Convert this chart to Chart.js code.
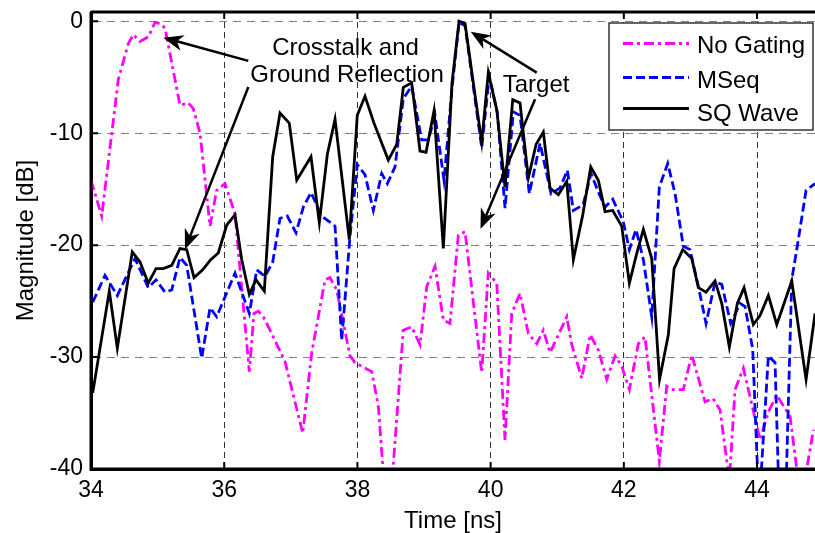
<!DOCTYPE html>
<html>
<head>
<meta charset="utf-8">
<script src="https://cdn.jsdelivr.net/npm/chart.js@4.4.1/dist/chart.umd.min.js"></script>
<style>
  html, body { margin: 0; padding: 0; background: #fff; }
  #wrap { width: 815px; height: 533px; }
</style>
</head>
<body>
<div id="wrap"><canvas id="gateChart" width="815" height="533"></canvas></div>
<script>
// Axis ticks
const timeTicks = [34, 36, 38, 40, 42, 44];
const magTicks = [0, -10, -20, -30, -40];

// No Gating (magenta, dash-dot)
const noGateTime = [34.00, 34.161, 34.41, 34.56, 34.635, 34.736, 34.86, 34.961, 35.036, 35.111,
  35.336, 35.461, 35.536, 35.637, 35.787, 35.887, 36.012, 36.162, 36.377, 36.447,
  36.512, 36.587, 36.688, 36.913, 37.179, 37.314, 37.514, 37.589, 37.689, 37.889,
  37.964, 38.215, 38.314, 38.459, 38.689, 38.815, 38.94, 39.041, 39.165, 39.29,
  39.39, 39.515, 39.616, 39.866, 39.965, 40.092, 40.216, 40.317, 40.441, 40.566,
  40.692, 40.791, 40.892, 41.143, 41.218, 41.368, 41.495, 41.619, 41.743, 41.868,
  41.968, 42.083, 42.218, 42.318, 42.533, 42.644, 42.719, 42.893, 43.02, 43.219,
  43.338, 43.444, 43.584, 43.67, 43.795, 44.045, 44.17, 44.296, 44.496, 44.66,
  44.846];
const noGateMag = [-14.2, -17.4, -5.2, -2.0, -1.2, -1.8, -1.4, -0.1, -0.2, -0.6,
  -7.5, -7.3, -7.8, -10.0, -18.3, -15.1, -14.5, -17.2, -31.3, -26.1,
  -25.9, -26.4, -27.6, -30.4, -36.8, -29.6, -23.1, -22.9, -24.0, -29.9,
  -30.5, -31.3, -34.4, -46.0, -27.6, -27.3, -28.9, -23.7, -21.9, -26.7,
  -27.0, -19.1, -18.8, -31.4, -22.5, -23.4, -37.4, -26.1, -24.3, -27.9,
  -28.8, -27.6, -29.6, -26.4, -28.9, -31.9, -28.0, -29.4, -32.0, -29.9,
  -30.8, -32.9, -28.8, -28.2, -39.3, -32.6, -32.9, -32.9, -29.8, -34.0,
  -33.7, -34.7, -41.0, -32.9, -31.0, -37.4, -34.9, -33.4, -35.3, -43.0,
  -36.5];

// MSeq (blue, dashed)
const mseqTime = [34.026, 34.21, 34.395, 34.661, 34.86, 34.976, 35.111, 35.212, 35.336, 35.437,
  35.662, 35.787, 35.887, 36.162, 36.377, 36.488, 36.613, 36.728, 36.838, 36.947,
  37.078, 37.188, 37.303, 37.464, 37.664, 37.764, 37.889, 37.998, 38.114, 38.239,
  38.365, 38.449, 38.565, 38.689, 38.815, 38.965, 39.065, 39.165, 39.30, 39.42,
  39.526, 39.616, 39.74, 39.866, 39.98, 40.101, 40.216, 40.341, 40.441, 40.581,
  40.742, 40.907, 41.042, 41.152, 41.242, 41.388, 41.508, 41.613, 41.718, 41.833,
  41.992, 42.083, 42.183, 42.293, 42.419, 42.533, 42.659, 42.769, 42.893, 42.994,
  43.119, 43.234, 43.369, 43.47, 43.605, 43.745, 43.82, 43.935, 44.03, 44.17,
  44.27, 44.383, 44.521, 44.62, 44.736, 44.871];
const mseqMag = [-25.1, -22.7, -24.5, -21.2, -23.8, -23.1, -24.2, -24.0, -21.1, -21.8,
  -30.1, -25.6, -26.4, -22.5, -26.1, -22.2, -22.8, -21.5, -17.6, -17.4,
  -18.9, -16.6, -15.3, -17.4, -18.3, -28.5, -19.2, -12.8, -13.7, -16.9,
  -13.6, -14.5, -13.0, -6.9, -5.8, -10.6, -10.6, -8.4, -14.2, -6.0,
  -0.1, -0.4, -5.8, -11.3, -4.9, -8.2, -16.7, -8.1, -8.4, -15.4,
  -10.9, -15.4, -14.9, -13.3, -16.9, -16.4, -13.6, -15.2, -16.6, -15.9,
  -17.9, -20.4, -18.6, -21.3, -26.4, -14.8, -12.7, -15.4, -20.1, -20.4,
  -23.7, -27.0, -23.3, -23.5, -27.0, -25.2, -25.5, -29.3, -43.5, -29.9,
  -30.5, -53.0, -23.1, -19.5, -15.1, -14.5];

// SQ Wave (black, solid)
const sqTime = [34.026, 34.275, 34.395, 34.62, 34.736, 34.86, 34.976, 35.086, 35.212, 35.336,
  35.437, 35.547, 35.677, 35.797, 35.911, 36.038, 36.162, 36.263, 36.377, 36.477,
  36.602, 36.728, 36.838, 36.977, 37.089, 37.303, 37.428, 37.548, 37.664, 37.878,
  37.998, 38.114, 38.249, 38.464, 38.59, 38.689, 38.815, 38.94, 39.03, 39.15,
  39.29, 39.42, 39.526, 39.616, 39.74, 39.866, 39.965, 40.092, 40.216, 40.332,
  40.441, 40.566, 40.682, 40.791, 40.892, 41.017, 41.143, 41.242, 41.383, 41.503,
  41.617, 41.718, 41.833, 41.968, 42.083, 42.191, 42.293, 42.419, 42.536, 42.668,
  42.754, 42.884, 43.02, 43.119, 43.234, 43.369, 43.47, 43.584, 43.704, 43.805,
  43.944, 44.045, 44.17, 44.296, 44.521, 44.736, 44.871];
const sqMag = [-33.2, -24.1, -29.2, -20.6, -21.5, -23.4, -22.1, -22.1, -21.8, -20.3,
  -20.4, -22.9, -22.2, -21.3, -20.7, -18.2, -17.3, -21.3, -24.4, -23.1,
  -24.1, -12.1, -8.2, -9.1, -14.2, -12.1, -18.0, -11.9, -8.75, -19.5,
  -8.4, -6.7, -9.1, -12.4, -11.0, -5.9, -5.5, -11.6, -11.7, -8.0,
  -20.3, -5.5, 0.0, -0.2, -5.5, -10.8, -4.6, -7.9, -14.8, -7.0,
  -7.3, -14.0, -11.0, -9.9, -14.9, -15.5, -14.3, -21.3, -17.3, -13.0,
  -14.2, -17.0, -16.9, -18.3, -23.4, -20.8, -18.6, -21.2, -32.0, -28.0,
  -22.1, -20.4, -21.2, -23.8, -24.2, -23.2, -25.2, -29.1, -25.2, -23.8,
  -27.1, -26.3, -24.5, -27.1, -23.2, -32.0, -26.1];

// Annotations (in data units)
const noteText = ["Crosstalk and", "Ground Reflection", "Target"];
const noteTime = [37.821, 37.844, 40.682];
const noteMag = [-3.01, -5.39, -6.29];
const arrowTailTime = [36.362, 36.362, 40.692, 40.667];
const arrowTailMag = [-3.54, -5.87, -4.59, -6.96];
const arrowTipTime = [35.086, 35.411, 39.701, 39.848];
const arrowTipMag = [-1.46, -20.38, -0.93, -18.54];

const FONT = '"Liberation Sans", Arial, Helvetica, sans-serif';

function toPoints(xs, ys) {
  return xs.map((t, i) => ({ x: t, y: ys[i] }));
}

// Axes drawn on top of the data: box lines and inward ticks
const axesFrame = {
  id: "axesFrame",
  afterDatasetsDraw(chart) {
    const { ctx, chartArea: a, scales } = chart;
    ctx.save();
    ctx.strokeStyle = "#000";
    ctx.lineWidth = 3;
    ctx.beginPath();
    ctx.moveTo(a.left, a.top);
    ctx.lineTo(a.right, a.top);
    ctx.moveTo(a.left, a.top);
    ctx.lineTo(a.left, a.bottom);
    ctx.lineTo(a.right, a.bottom);
    ctx.stroke();

    ctx.lineWidth = 2;
    ctx.beginPath();
    timeTicks.forEach((t) => {
      const px = scales.x.getPixelForValue(t);
      ctx.moveTo(px, a.bottom);
      ctx.lineTo(px, a.bottom - 7);
      ctx.moveTo(px, a.top);
      ctx.lineTo(px, a.top + 7);
    });
    magTicks.forEach((v) => {
      const py = scales.y.getPixelForValue(v);
      ctx.moveTo(a.left, py);
      ctx.lineTo(a.left + 7, py);
    });
    ctx.stroke();
    ctx.restore();
  },
};

// Boxed legend in the upper right corner
const legendBox = {
  id: "legendBox",
  afterDraw(chart) {
    const ctx = chart.ctx;
    const lineY = [43.5, 77.5, 108.5];
    const textY = [53, 88, 120.5];
    ctx.save();
    ctx.fillStyle = "#fff";
    ctx.fillRect(609, 23, 204, 107);
    ctx.strokeStyle = "#000";
    ctx.lineWidth = 1.2;
    ctx.strokeRect(609, 23, 204, 107);

    chart.data.datasets.forEach((ds, i) => {
      ctx.strokeStyle = ds.borderColor;
      ctx.lineWidth = ds.borderWidth;
      ctx.setLineDash(ds.borderDash || []);
      ctx.beginPath();
      ctx.moveTo(623, lineY[i]);
      ctx.lineTo(689, lineY[i]);
      ctx.stroke();
      ctx.setLineDash([]);
      ctx.fillStyle = "#000";
      ctx.font = "24px " + FONT;
      ctx.textAlign = "left";
      ctx.textBaseline = "alphabetic";
      ctx.fillText(ds.label, 697, textY[i]);
    });
    ctx.restore();
  },
};

// Text labels and arrows
function drawArrow(ctx, x0, y0, x1, y1) {
  const ang = Math.atan2(y1 - y0, x1 - x0);
  const len = 20, half = 8, notch = 14;
  const bx = x1 - Math.cos(ang) * notch;
  const by = y1 - Math.sin(ang) * notch;
  ctx.beginPath();
  ctx.moveTo(x0, y0);
  ctx.lineTo(bx, by);
  ctx.stroke();
  const cx = x1 - Math.cos(ang) * len;
  const cy = y1 - Math.sin(ang) * len;
  ctx.beginPath();
  ctx.moveTo(x1, y1);
  ctx.lineTo(cx - Math.sin(ang) * half, cy + Math.cos(ang) * half);
  ctx.lineTo(bx, by);
  ctx.lineTo(cx + Math.sin(ang) * half, cy - Math.cos(ang) * half);
  ctx.closePath();
  ctx.fill();
}

const notes = {
  id: "notes",
  afterDraw(chart) {
    const { ctx, scales } = chart;
    ctx.save();
    ctx.fillStyle = "#000";
    ctx.strokeStyle = "#000";
    ctx.lineWidth = 2.5;
    ctx.font = "24px " + FONT;
    ctx.textAlign = "center";
    ctx.textBaseline = "alphabetic";
    noteText.forEach((s, i) => {
      ctx.fillText(s, scales.x.getPixelForValue(noteTime[i]), scales.y.getPixelForValue(noteMag[i]));
    });
    arrowTailTime.forEach((t, i) => {
      drawArrow(
        ctx,
        scales.x.getPixelForValue(t),
        scales.y.getPixelForValue(arrowTailMag[i]),
        scales.x.getPixelForValue(arrowTipTime[i]),
        scales.y.getPixelForValue(arrowTipMag[i])
      );
    });
    ctx.restore();
  },
};

const ctx = document.getElementById("gateChart").getContext("2d");

new Chart(ctx, {
  type: "line",
  data: {
    datasets: [
      {
        label: "No Gating",
        data: toPoints(noGateTime, noGateMag),
        borderColor: "#ff00ff",
        borderWidth: 2.8,
        borderDash: [10, 4, 3, 4],
        order: 2,
      },
      {
        label: "MSeq",
        data: toPoints(mseqTime, mseqMag),
        borderColor: "#0000ff",
        borderWidth: 2.8,
        borderDash: [9, 4],
        order: 1,
      },
      {
        label: "SQ Wave",
        data: toPoints(sqTime, sqMag),
        borderColor: "#000000",
        borderWidth: 2.8,
        order: 0,
      },
    ],
  },
  options: {
    responsive: false,
    animation: false,
    devicePixelRatio: 1,
    layout: { padding: { top: 12, left: 0, right: 0, bottom: 0 } },
    elements: {
      point: { radius: 0 },
      line: { tension: 0, fill: false },
    },
    plugins: {
      legend: { display: false },
      tooltip: { enabled: false },
    },
    scales: {
      x: {
        type: "linear",
        min: 34,
        max: 44.87,
        afterBuildTicks(scale) {
          scale.ticks = timeTicks.map((v) => ({ value: v }));
        },
        afterFit(scale) {
          scale.height = 64;
          scale.paddingLeft = 0;
          scale.paddingRight = 0;
        },
        ticks: {
          autoSkip: false,
          maxRotation: 0,
          padding: 8,
          color: "#000",
          font: { family: FONT, size: 23 },
        },
        grid: { color: "#333", lineWidth: 1, drawTicks: false },
        border: { color: "#000", width: 3, dash: [6, 4] },
        title: {
          display: true,
          text: "Time [ns]",
          color: "#000",
          font: { family: FONT, size: 24 },
          padding: { top: 0, bottom: -3 },
        },
      },
      y: {
        type: "linear",
        min: -40,
        max: 0.83,
        afterBuildTicks(scale) {
          scale.ticks = magTicks.map((v) => ({ value: v }));
        },
        afterFit(scale) {
          scale.width = 91;
          scale.paddingTop = 0;
          scale.paddingBottom = 0;
        },
        ticks: {
          padding: 8,
          color: "#000",
          font: { family: FONT, size: 23 },
        },
        grid: { color: "#808080", lineWidth: 1, drawTicks: false },
        border: { color: "#000", width: 3, dash: [8, 6] },
        title: {
          display: true,
          text: "Magnitude [dB]",
          color: "#000",
          font: { family: FONT, size: 24 },
          padding: { top: 12, bottom: 0 },
        },
      },
    },
  },
  plugins: [axesFrame, legendBox, notes],
});
</script>
</body>
</html>
